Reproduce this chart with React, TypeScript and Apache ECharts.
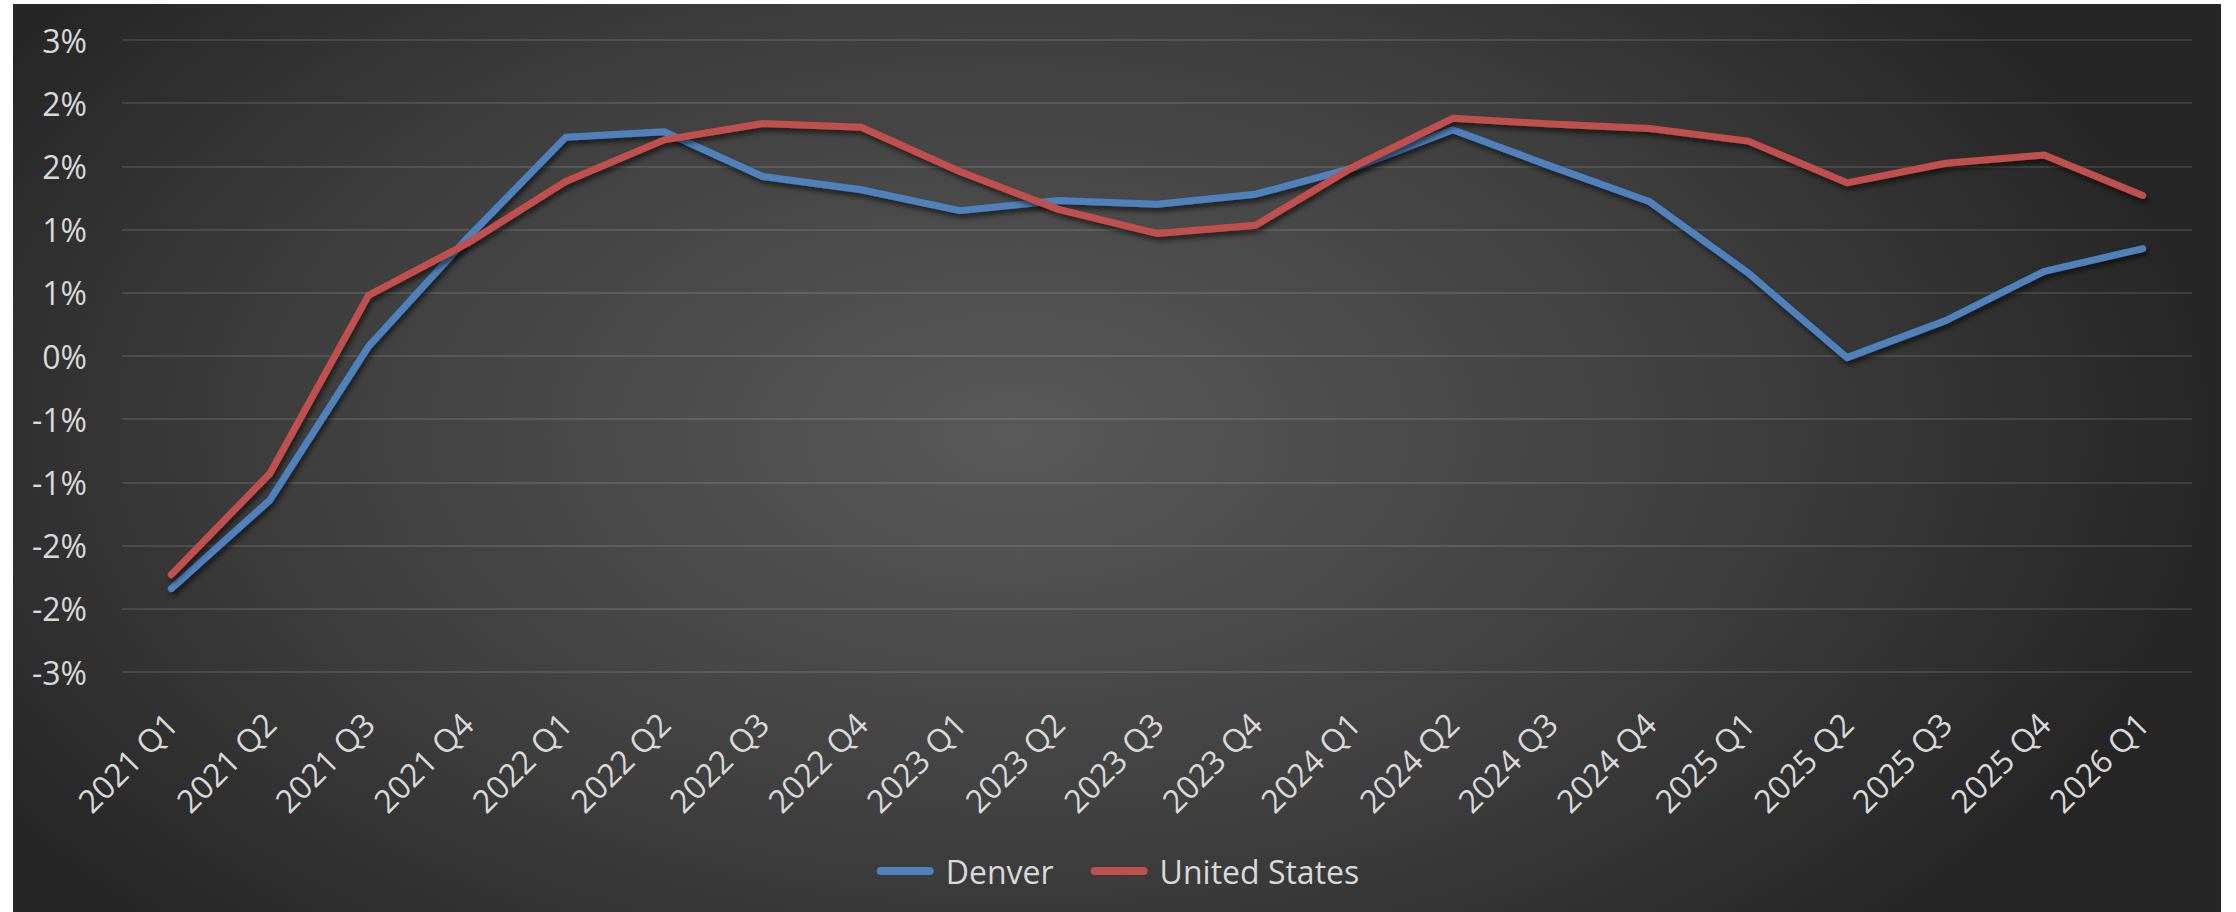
import React, { useEffect, useRef } from "react";
import * as echarts from "echarts";

const categories = [
  "2021 Q1", "2021 Q2", "2021 Q3", "2021 Q4",
  "2022 Q1", "2022 Q2", "2022 Q3", "2022 Q4",
  "2023 Q1", "2023 Q2", "2023 Q3", "2023 Q4",
  "2024 Q1", "2024 Q2", "2024 Q3", "2024 Q4",
  "2025 Q1", "2025 Q2", "2025 Q3", "2025 Q4",
  "2026 Q1",
];

const denver = [
  -1.84, -1.14, 0.075, 0.93,
  1.73, 1.775, 1.42, 1.315,
  1.15, 1.23, 1.2, 1.28,
  1.49, 1.79, 1.5, 1.22,
  0.655, -0.013, 0.28, 0.67,
  0.85,
];

const unitedStates = [
  -1.73, -0.93, 0.48, 0.89,
  1.38, 1.71, 1.84, 1.81,
  1.46, 1.16, 0.97, 1.035,
  1.5, 1.88, 1.835, 1.8,
  1.7, 1.37, 1.525, 1.59,
  1.27,
];

const yMin = -2.5;
const yMax = 2.5;
const yStep = 0.5;

const FONT = "'Open Sans', 'Noto Sans', sans-serif";
const TEXT = "#d9d9d9";

export default function App() {
  const ref = useRef<HTMLDivElement>(null);

  useEffect(() => {
    if (!ref.current) return;
    const chart = echarts.init(ref.current, undefined, { renderer: "svg" });
    const lineShadow = {
      shadowColor: "rgba(0,0,0,0.55)",
      shadowBlur: 5,
      shadowOffsetX: 2,
      shadowOffsetY: 4,
    };
    chart.setOption({
      animation: false,
      backgroundColor: "transparent",
      textStyle: { fontFamily: FONT },
      grid: { left: 122, right: 44, top: 40, bottom: 240 },
      legend: {
        top: 850,
        left: "center",
        itemWidth: 57,
        itemHeight: 8,
        itemGap: 37,
        icon: "path://M4,0 H53 A4,4 0 0 1 53,8 H4 A4,4 0 0 1 4,0 Z",
        textStyle: { color: TEXT, fontSize: 32, fontFamily: FONT, padding: [0, 0, 0, 7] },
        data: ["Denver", "United States"],
      },
      xAxis: {
        type: "category",
        data: categories,
        boundaryGap: true,
        axisLine: { show: false },
        axisTick: { show: false },
        axisLabel: {
          rotate: 45,
          margin: 46,
          interval: 0,
          color: TEXT,
          fontSize: 32,
          fontFamily: FONT,
        },
      },
      yAxis: {
        type: "value",
        min: yMin,
        max: yMax,
        interval: yStep,
        axisLine: { show: false },
        axisTick: { show: false },
        splitLine: { lineStyle: { color: "rgba(255,255,255,0.11)", width: 2 } },
        axisLabel: {
          margin: 35,
          color: TEXT,
          fontSize: 32,
          fontFamily: FONT,
          formatter: (v: number) => {
            const r = Math.sign(v) * Math.round(Math.abs(v));
            return (r === 0 ? 0 : r) + "%";
          },
        },
      },
      series: [
        {
          name: "Denver",
          type: "line",
          data: denver,
          showSymbol: false,
          symbol: "none",
          color: "#4F81BD",
          lineStyle: { width: 7, color: "#4F81BD", cap: "round", join: "round", ...lineShadow },
        },
        {
          name: "United States",
          type: "line",
          data: unitedStates,
          showSymbol: false,
          symbol: "none",
          color: "#C0504D",
          lineStyle: { width: 7, color: "#C0504D", cap: "round", join: "round", ...lineShadow },
        },
      ],
    });
    return () => chart.dispose();
  }, []);

  return (
    <div
      style={{
        position: "fixed",
        left: 0,
        top: 0,
        width: 2236,
        height: 912,
        background: "#ffffff",
        overflow: "hidden",
      }}
    >
      <div
        style={{
          position: "absolute",
          left: 13,
          top: 4,
          width: 2208,
          height: 908,
          background:
            "radial-gradient(ellipse 1200px 700px at 1000px 430px, #595959 0%, #3e3e3e 60%, #262626 100%)",
        }}
      />
      <div
        ref={ref}
        style={{ position: "absolute", left: 0, top: 0, width: 2236, height: 912 }}
      />
    </div>
  );
}
